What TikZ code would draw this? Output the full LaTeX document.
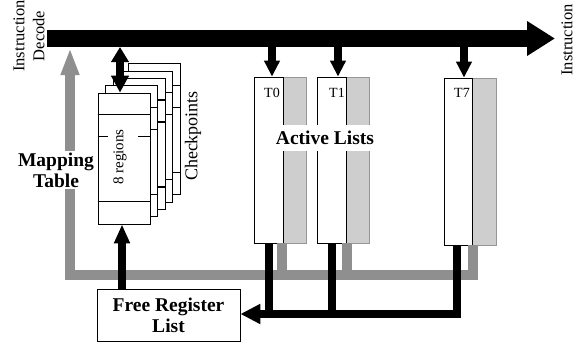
\documentclass[tikz,border=0pt]{standalone}
\usepackage{fontspec}
\setmainfont{Liberation Serif}
\usetikzlibrary{arrows.meta,calc}
\definecolor{wiregray}{RGB}{143,143,143}
\definecolor{colgray}{RGB}{206,206,206}
\definecolor{colbord}{RGB}{150,150,150}
\begin{document}
\begin{tikzpicture}[x=1pt,y=-1pt,
  boldlabel/.style={font=\fontsize{19.5}{21}\selectfont\bfseries, align=center},
  plainlabel/.style={font=\fontsize{16.5}{20}\selectfont, align=center},
  slot/.style={draw=black, line width=0.8pt, fill=white, minimum width=52pt, minimum height=131pt, inner sep=0pt},
  wcol/.style={draw=black, line width=0.8pt, fill=white, inner sep=0pt},
  gcol/.style={draw=colbord, line width=0.8pt, fill=colgray, inner sep=0pt},
  regline/.style={line width=1.5pt},
  tap/.style={line width=8pt, -{Triangle[length=16pt,width=15pt]}},
  graywire/.style={draw=wiregray, line width=10pt, line join=miter},
  blackwire/.style={line width=8pt, line join=miter},
]
\useasboundingbox (0,0) rectangle (582,343);
\fill[white] (0,0) rectangle (582,343);

% coordinates
\coordinate (bs) at (47,38.5);
\coordinate (be) at (555,38.5);
\coordinate (mtap) at (120,47);
\coordinate (t0tap) at (272,47);
\coordinate (t1tap) at (338,47);
\coordinate (t7tap) at (464,47);
\coordinate (g0) at (282,275);
\coordinate (g1) at (347,275);
\coordinate (gr) at (473,275);
\coordinate (gl) at (70,275);
\coordinate (gtip) at (70,48);
\coordinate (b7) at (457,314);
\coordinate (fa) at (122,300);

% active list columns
\node[gcol, minimum width=23pt, minimum height=166pt] (T0g) at (294.5,160) {};
\node[wcol, minimum width=29pt, minimum height=166pt] (T0w) at (268.5,160) {};
\node[gcol, minimum width=23pt, minimum height=166pt] (T1g) at (357.5,160) {};
\node[wcol, minimum width=29pt, minimum height=166pt] (T1w) at (331.5,160) {};
\node[gcol, minimum width=24pt, minimum height=167pt] (T7g) at (484,161.5) {};
\node[wcol, minimum width=28pt, minimum height=167pt] (T7w) at (458,161.5) {};

\node[font=\fontsize{14}{16}\selectfont] (l0) at (272,93) {T0};
\node[font=\fontsize{14}{16}\selectfont] (l1) at (337,93) {T1};
\node[font=\fontsize{14}{16}\selectfont] (l7) at (462,93) {T7};

% mapping table stack
\foreach \k in {4,3,2,1,0}{
  \node[slot] (mt\k) at ({124+7.5*\k},{158.5-7.3*\k}) {};
  \draw[regline] ([yshift=-22pt]mt\k.north west) -- ([yshift=-22pt]mt\k.north east);
  \draw[regline] ([yshift=-109pt]mt\k.north west) -- ([yshift=-109pt]mt\k.north east);
  \draw[regline] ([yshift=-44pt]mt\k.north west) -- ++(10,0);
  \draw[regline] ([yshift=-44pt]mt\k.north east) -- ++(-12,0);
}
\node[rotate=90, font=\fontsize{15}{18}\selectfont] (reg) at (120,157) {8 regions};
\node[rotate=90, font=\fontsize{18}{20}\selectfont] (ckp) at (193,136) {Checkpoints};

% free register list
\node[draw, line width=0.8pt, minimum width=143pt, minimum height=52pt, boldlabel] (frl) at (168.5,315) {Free Register\\List};

% gray wires
\draw[graywire] (T0g.south -| g0) -- (g0);
\draw[graywire] (T1g.south -| g1) -- (g1);
\draw[graywire, -{Triangle[length=27pt,width=17pt]}] (T7g.south -| gr) -- (gr) -- (gl) -- (gtip);

% black wires
\draw[blackwire] (T0w.south) -- (T0w.south |- b7);
\draw[blackwire] (T1w.south) -- (T1w.south |- b7);
\draw[blackwire, -{Triangle[length=20pt,width=19pt]}] (T7w.south -| b7) -- (b7) -- (frl.east |- b7);

\draw[line width=8pt, -{Triangle[length=19pt,width=15pt]}] (frl.north -| fa) -- (mt0.south -| fa);

% main bar
\draw[line width=17pt, -{Triangle[length=28pt,width=33pt]}] (bs) -- (be);
\draw[line width=8pt, {Triangle[length=15pt,width=17pt]}-{Triangle[length=17pt,width=17pt]}] (mtap) -- (mt0.north -| mtap);
\draw[tap] (t0tap) -- (T0w.north -| t0tap);
\draw[tap] (t1tap) -- (T1w.north -| t1tap);
\draw[tap] (t7tap) -- (T7w.north -| t7tap);

% labels
\node[boldlabel, fill=white, inner xsep=1pt, inner ysep=6pt] (al) at (325,138) {Active Lists};
\node[boldlabel, fill=white, inner sep=2pt] (mtl) at (56,170) {Mapping\\Table};
\node[rotate=90, plainlabel] (dec) at (29,36) {Instruction\\Decode};
\node[rotate=90, plainlabel] (fet) at (567,40) {Instruction};
\end{tikzpicture}
\end{document}
